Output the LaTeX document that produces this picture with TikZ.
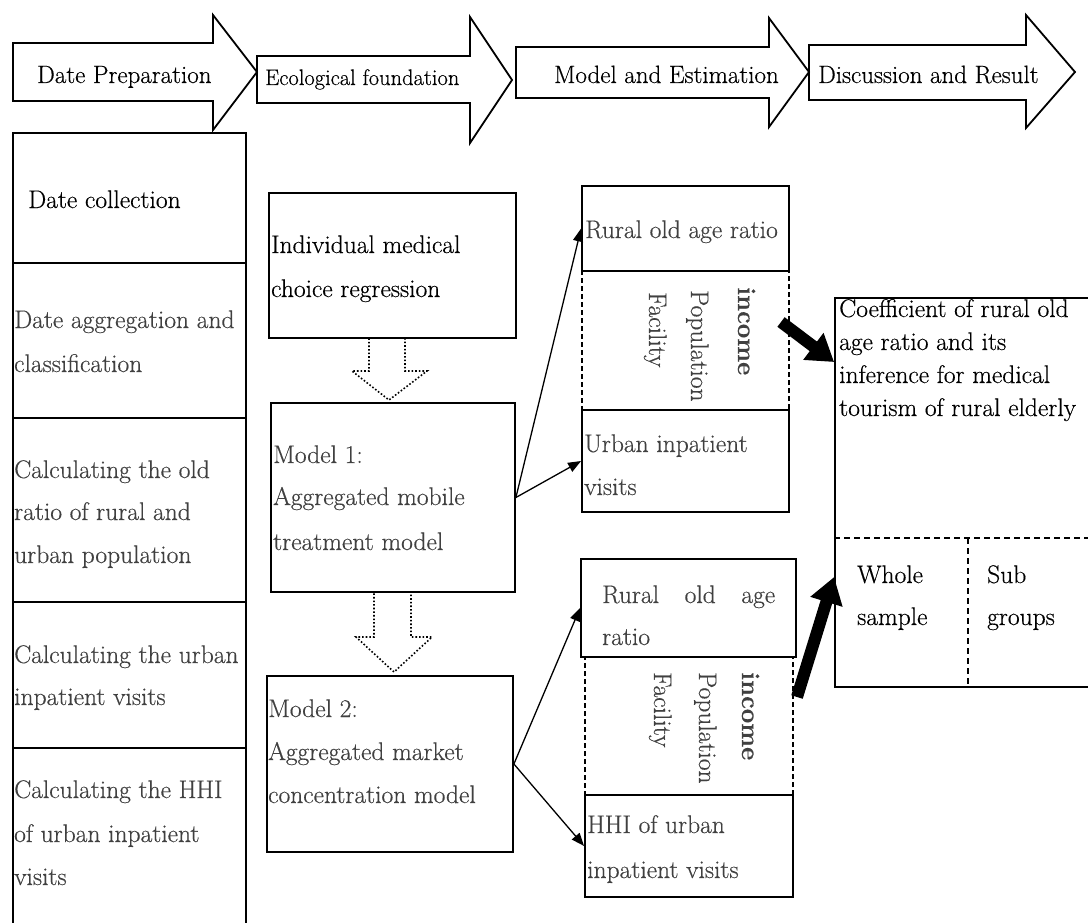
\documentclass[tikz,border=0pt]{standalone}
\usepackage{fontspec}
\setmainfont{Latin Modern Roman}[FakeBold=0.4]
\usetikzlibrary{arrows.meta,fit}
\newcommand\myfs{\fontsize{25.5}{30}\selectfont}
\newcommand\hdfs{\fontsize{25}{30}\selectfont}
\newcommand\ecofs{\fontsize{22.5}{30}\selectfont}
\definecolor{tc}{HTML}{404040}
\begin{document}
\begin{tikzpicture}[x=1pt,y=-1pt,
 box/.style={draw, line width=1.8pt, inner sep=0pt},
 dbox/.style={draw, line width=1.4pt, dash pattern=on 5pt off 3pt, inner sep=0pt},
 tb/.style={anchor=base west, inner sep=0pt, font=\myfs, text=black},
 hd/.style={tb, font=\hdfs},
 tg/.style={tb, text=tc},
 vt/.style={tg, rotate=-90},
 conn/.style={line width=1.3pt, -{Triangle[length=13pt,width=10pt]}},
 big/.style={line width=12pt, -{Triangle[length=26pt,width=32pt]}},
 hollow/.style={draw, line width=1.8pt, line join=miter},
 dotarrow/.style={draw, line width=1.6pt, dotted}]
\useasboundingbox (0,0) rectangle (1088,923);
\fill[white] (0,0) rectangle (1088,923);

% top process arrows
\draw[hollow] (13,43) -- (213,43) -- (213,15) -- (257,72) -- (213,130) -- (213,101) -- (13,101) -- cycle;
\draw[hollow] (257,56) -- (470,56) -- (470,17) -- (512,80) -- (470,143) -- (470,103) -- (257,103) -- cycle;
\draw[hollow] (516,47) -- (769,47) -- (769,18) -- (809,72) -- (769,127) -- (769,98) -- (516,98) -- cycle;
\draw[hollow] (809,45) -- (1026,45) -- (1026,15) -- (1075,72) -- (1026,128) -- (1026,100) -- (809,100) -- cycle;
\node[hd] (h1) at (37,83) {Date Preparation};
\node[hd, font=\ecofs] (h2) at (265,85) {Ecological foundation};
\node[hd] (h3) at (554,83) {Model and Estimation};
\node[hd] (h4) at (818,83) {Discussion and Result};

% left column
\node[box, fit={(13,133) (246,263)}] (c1) {};
\node[box, fit={(13,263) (246,418)}] (c2) {};
\node[box, fit={(13,418) (246,602)}] (c3) {};
\node[box, fit={(13,602) (246,748)}] (c4) {};
\node[box, fit={(13,748) (246,940)}] (c5) {};
\node[tb] (c1a) at (28,208) {Date collection};
\node[tg] (c2a) at (14,328) {Date aggregation and};
\node[tg] (c2b) at (14,372) {classification};
\node[tg] (c3a) at (14,478) {Calculating the old};
\node[tg] (c3b) at (14,520) {ratio of rural and};
\node[tg] (c3c) at (14,563) {urban population};
\node[tg] (c4a) at (14,663) {Calculating the urban};
\node[tg] (c4b) at (14,705) {inpatient visits};
\node[tg] (c5a) at (14,798) {Calculating the HHI};
\node[tg] (c5b) at (14,842) {of urban inpatient};
\node[tg] (c5c) at (14,885) {visits};

% middle column
\node[box, fit={(269,193) (516,338)}] (ind) {};
\node[tb] (inda) at (271,253) {Individual medical};
\node[tb] (indb) at (271,297) {choice regression};
\draw[dotarrow] (369,338) -- (405,338) -- (405,371) -- (427,371) -- (389,400) -- (352,371) -- (369,371) -- cycle;
\node[box, fit={(271,403) (515,592)}] (m1) {};
\node[tg] (m1a) at (273,463) {Model 1:};
\node[tg] (m1b) at (273,505) {Aggregated mobile};
\node[tg] (m1c) at (273,550) {treatment model};
\draw[dotarrow] (374,592) -- (411,592) -- (411,637) -- (432,637) -- (394,672) -- (356,637) -- (374,637) -- cycle;
\node[box, fit={(267,676) (513,852)}] (m2) {};
\node[tg] (m2a) at (268,717) {Model 2:};
\node[tg] (m2b) at (268,760) {Aggregated market};
\node[tg] (m2c) at (268,803) {concentration model};

% variables, model 1
\node[box, fit={(582,186) (789,271)}] (r1) {};
\node[tg] (r1a) at (585,238) {Rural old age ratio};
\node[dbox, fit={(582,271) (789,410)}] (d1) {};
\node[vt, font=\myfs\bfseries] (d1a) at (738,287) {income};
\node[vt] (d1b) at (691,290) {Population};
\node[vt] (d1c) at (649,292) {Facility};
\node[box, fit={(582,410) (789,512)}] (u1) {};
\node[tg] (u1a) at (584,452) {Urban inpatient};
\node[tg] (u1b) at (584,495) {visits};

% variables, model 2
\node[box, fit={(581,559) (796,657)}] (r2) {};
\node[tg] (r2a) at (602,603) {\hbox to 173pt{Rural\hfill old\hfill age}};
\node[tg] (r2b) at (602,645) {ratio};
\node[dbox, fit={(585,657) (793,795)}] (d2) {};
\node[vt, font=\myfs\bfseries] (d2a) at (742,672) {income};
\node[vt] (d2b) at (699,672) {Population};
\node[vt] (d2c) at (654,672) {Facility};
\node[box, fit={(585,795) (793,897)}] (h2b) {};
\node[tg] (h2ba) at (587,833) {HHI of urban};
\node[tg] (h2bb) at (587,878) {inpatient visits};

% result box
\node[box, fit={(835,298) (1110,687)}] (rbox) {};
\draw[line width=1.4pt, dash pattern=on 6pt off 4pt] (rbox.west |- 0,538) coordinate (rl) -- (1110,538) coordinate (rr);
\draw[line width=1.4pt, dash pattern=on 6pt off 4pt] (968,538) coordinate (vt1) -- (968,687) coordinate (vb1);
\node[tb] (ra) at (839,317) {Coefficient of rural old};
\node[tb] (rb) at (839,350) {age ratio and its};
\node[tb] (rc) at (839,383) {inference for medical};
\node[tb] (rd) at (839,416) {tourism of rural elderly};
\node[tb] (wa) at (857,583) {Whole};
\node[tb] (wb) at (857,625) {sample};
\node[tb] (sa) at (987,583) {Sub};
\node[tb] (sb) at (987,625) {groups};

% connectors
\draw[conn] (m1.east) -- (r1.west);
\draw[conn] (m1.east) -- (u1.west);
\draw[conn] (m2.east) -- (r2.west);
\draw[conn] (m2.east) -- (h2b.west);

\coordinate (t1) at (781,322);
\coordinate (e1) at (0,362);
\coordinate (t2) at (797,697);
\coordinate (e2) at (0,577);
\draw[big] (t1) -- (rbox.west |- e1);
\draw[big] (t2) -- (rbox.west |- e2);
\end{tikzpicture}
\end{document}
